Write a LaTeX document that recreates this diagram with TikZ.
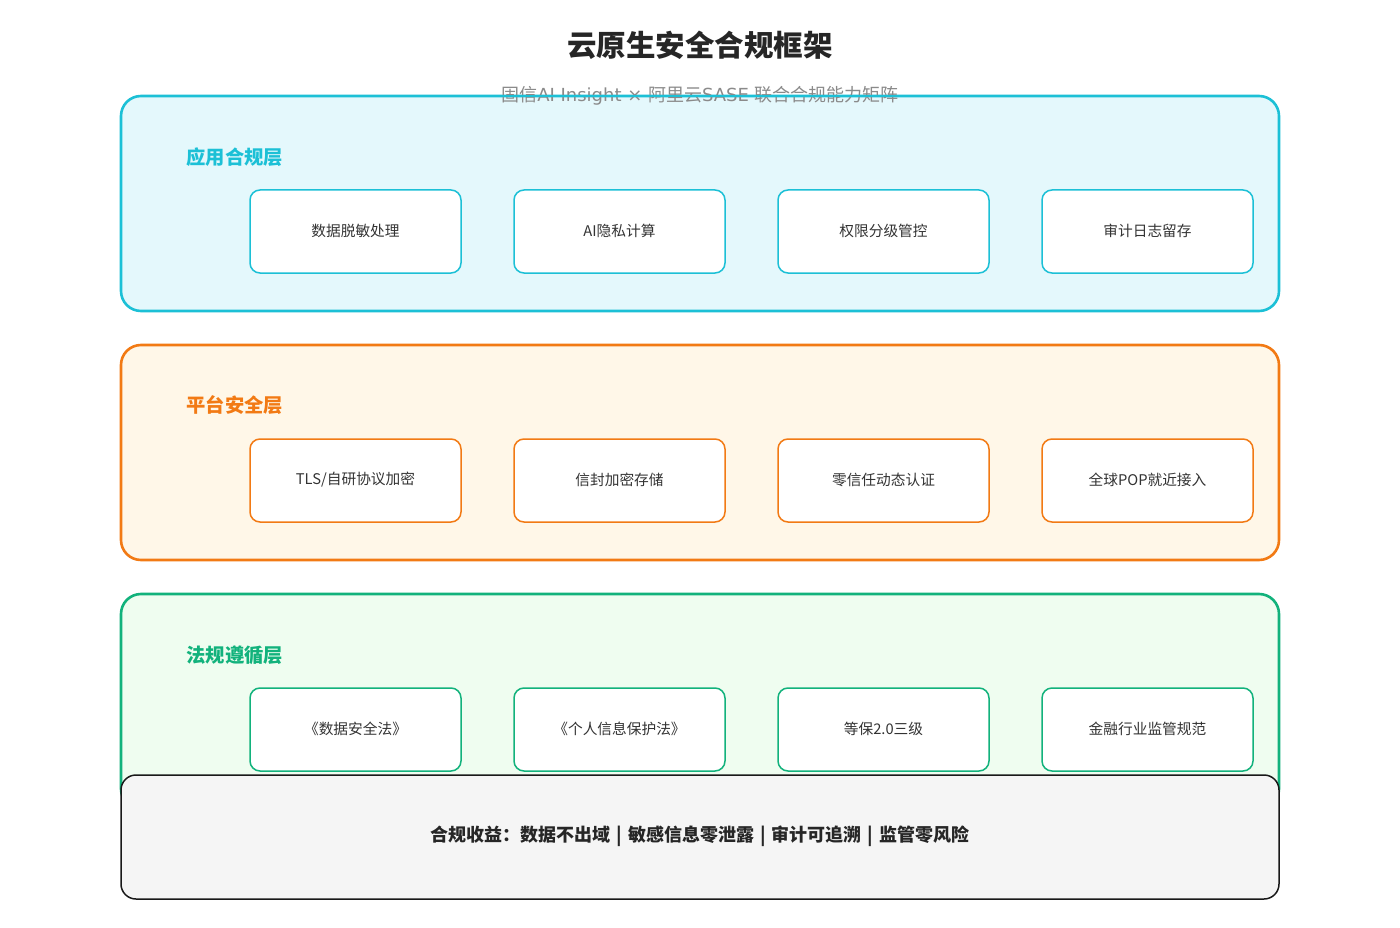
\documentclass[tikz,border=0pt]{standalone}
\usepackage{fontspec}
\setmainfont{Noto Sans CJK SC}
\newfontfamily\latsans{DejaVu Sans}
\begin{document}
\begin{tikzpicture}[x=1pt,y=-1pt,
  layer/.style={line width=2.6pt,rounded corners=20pt},
  item/.style={line width=1.5pt,rounded corners=10pt,fill=white},
  itemtext/.style={font=\fontsize{14.7}{16}\selectfont,text=txt},
  laytext/.style={font=\fontsize{19.3}{22}\selectfont\bfseries,anchor=west}]
\definecolor{cyS}{HTML}{1CC0D6}
\definecolor{cyF}{HTML}{E4F8FC}
\definecolor{orS}{HTML}{F27A14}
\definecolor{orF}{HTML}{FFF7E8}
\definecolor{grS}{HTML}{12B27C}
\definecolor{grF}{HTML}{EFFDF0}
\definecolor{txt}{HTML}{333333}
\definecolor{sub}{HTML}{8A8A8A}
\definecolor{botF}{HTML}{F5F5F5}
\useasboundingbox[fill=white] (0,0) rectangle (1400,928);
% title
\node[font=\fontsize{29.5}{32}\selectfont\bfseries,text=black!85] (title) at (700,45) {云原生安全合规框架};
% layers
\draw[layer,draw=cyS,fill=cyF] (121,96) rectangle (1279,311);
\node[font=\fontsize{18}{20}\selectfont,text=sub] (subtitle) at (700,96) {固信{\latsans AI Insight × }阿里云{\latsans SASE }联合合规能力矩阵};
\draw[line width=2.6pt,draw=cyS] (subtitle.west) ++(-5,0) -- ++(410,0);
\draw[layer,draw=orS,fill=orF] (121,345) rectangle (1279,560);
\draw[layer,draw=grS,fill=grF] (121,594) rectangle (1279,809);
% labels
\node[laytext,text=cyS] (l1) at (183,157) {应用合规层};
\node[laytext,text=orS] (l2) at (183,405) {平台安全层};
\node[laytext,text=grS] (l3) at (183,655) {法规遵循层};
% items
\foreach \x/\t [count=\i] in {250/数据脱敏处理,514/AI隐私计算,778/权限分级管控,1042/审计日志留存}{
  \draw[item,draw=cyS] (\x,190) rectangle +(211,83);
  \node[itemtext] (a\i) at (\x+105.5,231) {\t};
}
\foreach \x/\t [count=\i] in {250/{TLS/自研协议加密},514/信封加密存储,778/零信任动态认证,1042/全球POP就近接入}{
  \draw[item,draw=orS] (\x,439) rectangle +(211,83);
  \node[itemtext] (b\i) at (\x+105.5,480) {\t};
}
\foreach \x/\t [count=\i] in {250/《数据安全法》,514/《个人信息保护法》,778/等保2.0三级,1042/金融行业监管规范}{
  \draw[item,draw=grS] (\x,688) rectangle +(211,83);
  \node[itemtext] (c\i) at (\x+105.5,729) {\t};
}
% bottom
\draw[line width=1.5pt,rounded corners=15pt,draw=black!90,fill=botF] (121,775) rectangle (1279,899);
\node[font=\fontsize{18}{20}\selectfont\bfseries,text=black!85] (benefit) at (700,836) {合规收益：数据不出域\hspace{6pt}|\hspace{6pt}敏感信息零泄露\hspace{6pt}|\hspace{6pt}审计可追溯\hspace{6pt}|\hspace{6pt}监管零风险};
\end{tikzpicture}
\end{document}
